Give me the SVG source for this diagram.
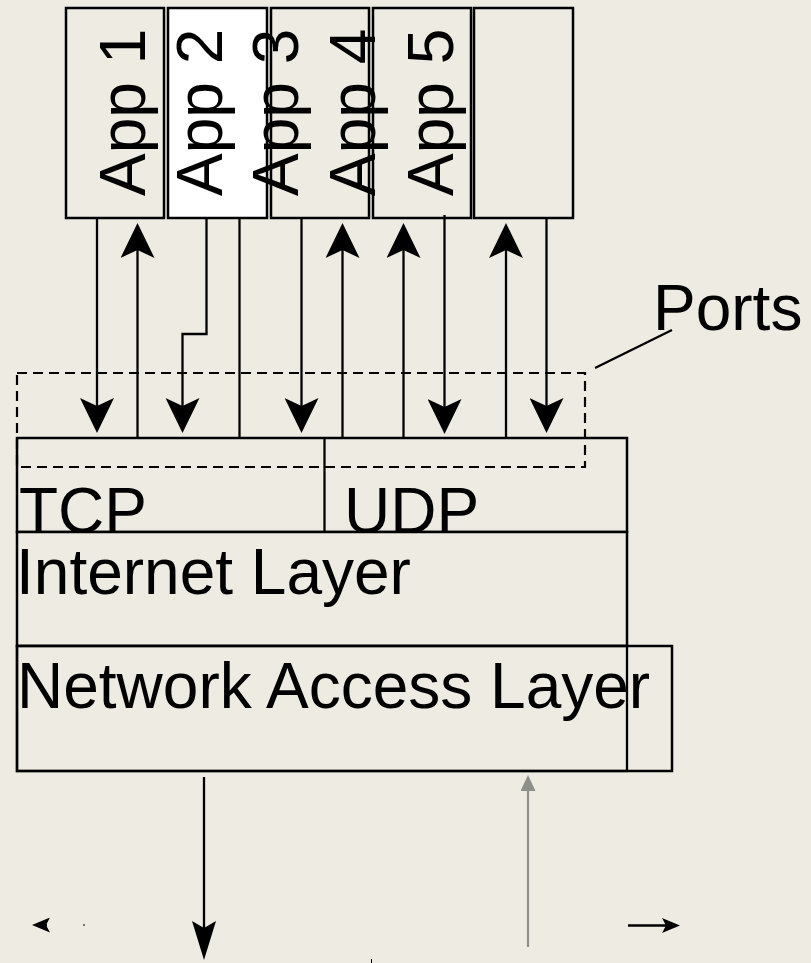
<svg xmlns="http://www.w3.org/2000/svg" width="811" height="963" viewBox="0 0 811 963">
<style>
  .box{fill:#EEEBE3;stroke:#000;stroke-width:2.5}
  .white{fill:#FFFFFF;stroke:#000;stroke-width:2.5}
  .lbl{font-family:"Liberation Sans",Arial,sans-serif;font-size:64px;fill:#000}
  .ln{fill:none;stroke:#000;stroke-width:2.3}
  .gray{fill:none;stroke:#8E8E8A;stroke-width:2.2}
  .dash{fill:none;stroke:#000;stroke-width:2.2;stroke-dasharray:10 6}
</style>
<defs>
  <marker id="big" markerUnits="userSpaceOnUse" markerWidth="35" markerHeight="34" viewBox="0 0 35 34" refX="8" refY="17" orient="auto">
    <path d="M0,0 L35,17 L0,34 L8,17 Z" fill="#000"/>
  </marker>
  <marker id="long" markerUnits="userSpaceOnUse" markerWidth="39" markerHeight="24" viewBox="0 0 39 24" refX="7" refY="12" orient="auto">
    <path d="M0,0 L39,12 L0,24 L7,12 Z" fill="#000"/>
  </marker>
  <marker id="small" markerUnits="userSpaceOnUse" markerWidth="18" markerHeight="15" viewBox="0 0 18 15" refX="4" refY="7.5" orient="auto">
    <path d="M0,0 L18,7.5 L0,15 L4,7.5 Z" fill="#000"/>
  </marker>
  <marker id="tri" markerUnits="userSpaceOnUse" markerWidth="16" markerHeight="15" viewBox="0 0 16 15" refX="0" refY="7.5" orient="auto">
    <path d="M0,0 L16,7.5 L0,15 Z" fill="#8E8E8A"/>
  </marker>
</defs>
<rect x="0" y="0" width="811" height="963" fill="#EEEBE3"/>

<g id="app1"><rect class="box" x="66" y="8" width="98" height="210"/></g>
<g id="app2"><rect class="white" x="168" y="8" width="99" height="210"/></g>
<g id="app3"><rect class="box" x="271" y="8" width="98" height="210"/></g>
<g id="app4"><rect class="box" x="373" y="8" width="98" height="210"/></g>
<g id="app5"><rect class="box" x="474" y="8" width="99" height="210"/></g>

<g id="app-labels">
  <text class="lbl" transform="translate(145,196) rotate(-90)">App 1</text>
  <text class="lbl" transform="translate(222,196) rotate(-90)">App 2</text>
  <text class="lbl" transform="translate(298,196) rotate(-90)">App 3</text>
  <text class="lbl" transform="translate(375,196) rotate(-90)">App 4</text>
  <text class="lbl" transform="translate(453,196) rotate(-90)">App 5</text>
</g>

<g id="transport">
  <rect class="box" x="17" y="438" width="610" height="94"/>
  <line class="ln" x1="324.5" y1="438" x2="324.5" y2="532"/>
  <text class="lbl" x="19" y="533">TCP</text>
  <text class="lbl" x="344" y="533">UDP</text>
</g>

<g id="internet">
  <rect class="box" x="17" y="532" width="610" height="114"/>
  <text class="lbl" x="16" y="594">Internet Layer</text>
</g>

<g id="network">
  <rect class="box" x="17" y="646" width="655" height="125"/>
  <rect class="ln" x="17" y="646" width="610" height="125"/>
  <text class="lbl" x="17" y="708">Network Access Layer</text>
</g>

<g id="ports">
  <rect class="dash" x="17" y="373" width="568" height="94"/>
  <line class="ln" x1="595" y1="368" x2="672" y2="330"/>
  <text class="lbl" x="653" y="330">Ports</text>
</g>

<g id="connectors">
  <line class="ln" x1="97" y1="218" x2="97" y2="406" marker-end="url(#big)"/>
  <line class="ln" x1="137.5" y1="438" x2="137.5" y2="250" marker-end="url(#big)"/>
  <path class="ln" d="M206.5,218 V334 H182.5 V406" marker-end="url(#big)"/>
  <line class="ln" x1="239.5" y1="218" x2="239.5" y2="438"/>
  <line class="ln" x1="301.5" y1="218" x2="301.5" y2="406" marker-end="url(#big)"/>
  <line class="ln" x1="342.5" y1="438" x2="342.5" y2="250" marker-end="url(#big)"/>
  <line class="ln" x1="403.5" y1="438" x2="403.5" y2="250" marker-end="url(#big)"/>
  <line class="ln" x1="444.5" y1="215" x2="444.5" y2="407" marker-end="url(#big)"/>
  <line class="ln" x1="506" y1="438" x2="506" y2="250" marker-end="url(#big)"/>
  <line class="ln" x1="546.5" y1="218" x2="546.5" y2="406" marker-end="url(#big)"/>

  <line class="ln" x1="204" y1="777" x2="204" y2="928" marker-end="url(#long)"/>
  <line class="gray" x1="528" y1="947" x2="528" y2="791" marker-end="url(#tri)"/>
  <line class="ln" x1="47" y1="925" x2="46" y2="925" marker-end="url(#small)"/>
  <line class="ln" x1="628" y1="925.5" x2="666" y2="925.5" marker-end="url(#small)"/>
  <line stroke="#000" stroke-width="1" x1="84" y1="924" x2="84" y2="926"/>
  <line stroke="#000" stroke-width="1" x1="371.5" y1="959" x2="371.5" y2="963"/>
</g>
</svg>
